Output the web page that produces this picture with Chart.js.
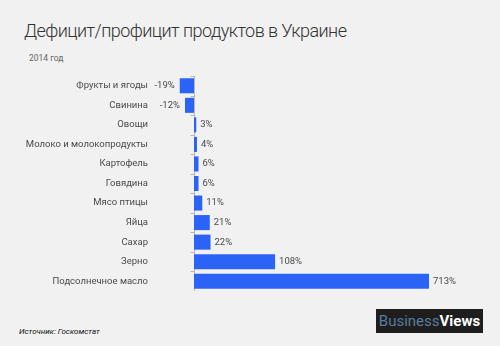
<!DOCTYPE html>
<html>
<head>
<meta charset="utf-8">
<script src="https://cdn.jsdelivr.net/npm/chart.js@4/dist/chart.umd.min.js"></script>
<style>
  html, body { margin: 0; padding: 0; }
  body { width: 500px; height: 346px; background: #f1f1f1; position: relative; overflow: hidden; font-family: Roboto, sans-serif; }
  .title { position: absolute; left: 24px; top: 20px; font-size: 18px; font-weight: 300; letter-spacing: -0.55px; color: #333; white-space: nowrap; }
  .sub { position: absolute; left: 29px; top: 53px; font-size: 8.5px; color: #666; }
  .src { position: absolute; left: 19px; top: 327px; font-size: 8px; font-style: italic; color: #111; }
  .logo { position: absolute; left: 376px; top: 309px; width: 107px; height: 24px; background: #1e1e1e; color: #fff; font-size: 15px; line-height: 24px; text-align: center; }
  .logo .b { color: #5b7c9c; }
  .logo .v { font-weight: bold; }
  #chart { position: absolute; left: 0; top: 76px; }
</style>
</head>
<body>
<div class="title">Дефицит/профицит продуктов в Украине</div>
<div class="sub">2014 год</div>
<canvas id="chart" width="500" height="215"></canvas>
<div class="src">Источник: Госкомстат</div>
<div class="logo"><span class="b">Business</span><span class="v">Views</span></div>
<script>
// Balance of production vs consumption, % (2014)
const categories = [
  "Фрукты и ягоды", "Свинина", "Овощи", "Молоко и молокопродукты", "Картофель",
  "Говядина", "Мясо птицы", "Яйца", "Сахар", "Зерно", "Подсолнечное масло"
];
const balance = [-19, -12, 3, 4, 6, 6, 11, 21, 22, 108, 713];

const BAR = "#2b63f6";
const TEXT = "#4a4a4a";
const AXIS = "#b8b8b8";

// Zero line with small ticks between rows, and % labels at the visible bar end.
const decor = {
  id: "decor",
  beforeDatasetsDraw(chart) {
    const { ctx, chartArea, scales } = chart;
    const x0 = Math.round(scales.x.getPixelForValue(0)) + 0.5;
    const y = scales.y;
    const half = (y.getPixelForValue(1) - y.getPixelForValue(0)) / 2;
    ctx.save();
    ctx.strokeStyle = AXIS;
    ctx.lineWidth = 1;
    ctx.beginPath();
    ctx.moveTo(x0, chartArea.top);
    ctx.lineTo(x0, chartArea.bottom);
    for (let i = 0; i <= categories.length; i++) {
      const yy = Math.round(y.getPixelForValue(i) - half) + 0.5;
      ctx.moveTo(x0 - 4, yy);
      ctx.lineTo(x0, yy);
    }
    ctx.stroke();
    ctx.restore();
  },
  afterDatasetsDraw(chart) {
    const { ctx, chartArea } = chart;
    const meta = chart.getDatasetMeta(0);
    ctx.save();
    ctx.font = "9.5px Roboto";
    ctx.fillStyle = TEXT;
    ctx.textBaseline = "middle";
    meta.data.forEach((bar, i) => {
      const v = balance[i];
      if (v < 0) {
        ctx.textAlign = "right";
        ctx.fillText(v + "%", Math.max(bar.x, chartArea.left) - 5, bar.y);
      } else {
        ctx.textAlign = "left";
        ctx.fillText(v + "%", Math.min(bar.x, chartArea.right) + 4, bar.y);
      }
    });
    ctx.restore();
  }
};

new Chart(document.getElementById("chart"), {
  type: "bar",
  data: {
    labels: categories,
    datasets: [{
      data: balance,
      backgroundColor: BAR,
      borderWidth: 0,
      barPercentage: 0.77,
      categoryPercentage: 1
    }]
  },
  options: {
    indexAxis: "y",
    responsive: false,
    animation: false,
    layout: { padding: { left: 0, right: 71, top: 0, bottom: 0 } },
    scales: {
      x: { display: false, min: -20, max: 313 },
      y: {
        grid: { display: false, drawTicks: false },
        border: { display: false },
        ticks: { color: TEXT, font: { family: "Roboto", size: 9.5 }, padding: 31 },
        afterFit(scale) {
          // fixed label column; the big tick padding must not eat vertical space
          scale.width = 179;
          scale.paddingTop = 0;
          scale.paddingBottom = 0;
        }
      }
    },
    plugins: { legend: { display: false }, tooltip: { enabled: false } }
  },
  plugins: [decor]
});
</script>
</body>
</html>
